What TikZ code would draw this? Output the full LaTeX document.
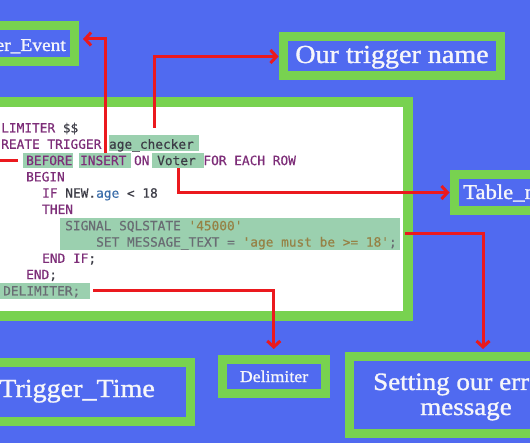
\documentclass[tikz,border=0pt]{standalone}
\usepackage{fontspec}
\setmainfont{Liberation Serif}
\setmonofont{DejaVu Sans Mono}[FakeBold=0.5]
\newfontfamily\labelfont{Liberation Serif}[FakeBold=1.2, FakeStretch=1.08]
\usepackage{xcolor}
\usetikzlibrary{arrows.meta}

\definecolor{bgblue}{RGB}{80,106,240}
\definecolor{boxgreen}{RGB}{120,210,80}
\definecolor{linkred}{RGB}{235,25,30}
\definecolor{hlgreen}{RGB}{155,208,175}
\definecolor{kwpurple}{RGB}{125,45,120}
\definecolor{idgray}{RGB}{60,60,70}
\definecolor{sqlgray}{RGB}{105,108,115}
\definecolor{strolive}{RGB}{150,130,70}
\definecolor{colblue}{RGB}{60,110,170}
\definecolor{labeltext}{RGB}{246,246,250}

\newcommand{\sqlkw}[1]{\textcolor{kwpurple}{#1}}
\newcommand{\sqlid}[1]{\textcolor{idgray}{#1}}
\newcommand{\sqlstring}[1]{\textcolor{strolive}{#1}}

\tikzset{
  greenbox/.style={draw=boxgreen, line width=9pt, fill=bgblue, inner sep=0},
  labeltxt/.style={text=labeltext, inner sep=0},
  codeline/.style={anchor=base west, inner sep=0, font={\fontsize{12.8}{16}\selectfont\ttfamily}},
  hl/.style={fill=hlgreen, inner sep=0},
  link/.style={draw=linkred, line width=3pt, -{Straight Barb[length=6pt,width=13pt]}},
  linkplain/.style={draw=linkred, line width=3pt}
}

\begin{document}
\begin{tikzpicture}[x=1pt,y=-1pt]
  \useasboundingbox (0,0) rectangle (530,443);
  \clip (0,0) rectangle (530,443);
  \fill[bgblue] (0,0) rectangle (530,443);

  % code panel
  \node[greenbox, line width=10pt, fill=white, minimum width=428pt, minimum height=214pt]
    (codeBox) at (194,209.5) {};

  % highlighted parts
  \node[hl, minimum width=90pt, minimum height=16pt] (hlAge) at (154,143) {};
  \node[hl, minimum width=50pt, minimum height=15pt] (hlBefore) at (48,160.5) {};
  \node[hl, minimum width=52pt, minimum height=15pt] (hlInsert) at (105,160.5) {};
  \node[hl, minimum width=52pt, minimum height=15pt] (hlVoter) at (178,160.5) {};
  \node[hl, minimum width=340pt, minimum height=32pt] (hlSignal) at (230,234) {};
  \node[hl, minimum width=95pt, minimum height=16pt] (hlDelim) at (42.5,291) {};

  % code lines
  \node[codeline] (l1) at (1,132.5) {\sqlkw{LIMITER} \sqlid{\$\$}};
  \node[codeline] (l2) at (1,148.8) {\sqlkw{REATE TRIGGER} \sqlid{age\_checker}};
  \node[codeline] (l3) at (26,165.1) {\sqlkw{BEFORE INSERT ON} \sqlid{Voter} \sqlkw{FOR EACH ROW}};
  \node[codeline] (l4) at (26,181.4) {\sqlkw{BEGIN}};
  \node[codeline] (l5) at (42,197.7) {\sqlkw{IF} \sqlid{NEW.}\textcolor{colblue}{age} \sqlid{< 18}};
  \node[codeline] (l6) at (42,214) {\sqlkw{THEN}};
  \node[codeline] (l7) at (65,230.3) {\textcolor{sqlgray}{SIGNAL SQLSTATE} \sqlstring{'45000'}};
  \node[codeline] (l8) at (96,246.6) {\textcolor{sqlgray}{SET MESSAGE\_TEXT =} \sqlstring{'age must be >= 18'}\textcolor{sqlgray}{;}};
  \node[codeline] (l9) at (42,262.9) {\sqlkw{END IF}\sqlid{;}};
  \node[codeline] (l10) at (26,279.2) {\sqlkw{END}\sqlid{;}};
  \node[codeline] (l11) at (3,295.5) {\textcolor{sqlgray}{DELIMITER;}};

  % label boxes
  \node[greenbox, minimum width=94.5pt, minimum height=36pt] (evtBox) at (27.25,44) {};
  \node[labeltxt, anchor=base east, font=\labelfont\fontsize{18}{21}\selectfont] (evtText) at (66,51) {er\_Event};

  \node[greenbox, minimum width=217.5pt, minimum height=39pt] (nameBox) at (391.75,56.5) {};
  \node[labeltxt, anchor=base, font=\labelfont\fontsize{26}{30}\selectfont] (nameText) at (392,63) {Our trigger name};

  \node[greenbox, minimum width=106pt, minimum height=36pt] (tblBox) at (507,192.5) {};
  \node[labeltxt, anchor=base west, font=\labelfont\fontsize{21}{24}\selectfont] (tblText) at (463,199) {Table\_n};

  \node[greenbox, minimum width=210pt, minimum height=58.5pt] (timeBox) at (85,392.25) {};
  \node[labeltxt, anchor=base east, font=\labelfont\fontsize{26}{30}\selectfont] (timeText) at (155,397) {Trigger\_Time};

  \node[greenbox, minimum width=102.5pt, minimum height=33.5pt] (delimBox) at (273.75,376.75) {};
  \node[labeltxt, anchor=base, font=\labelfont\fontsize{16.5}{19}\selectfont] (delimText) at (274,382) {Delimiter};

  \node[greenbox, minimum width=250.5pt, minimum height=76.5pt] (msgBox) at (474.75,395.25) {};
  \node[labeltxt, anchor=base west, font=\labelfont\fontsize{25}{28}\selectfont] (msgText1) at (373,390) {Setting our err};
  \node[labeltxt, anchor=base, font=\labelfont\fontsize{25}{28}\selectfont] (msgText2) at (466,415) {message};

  % free ends
  \coordinate (timeIn) at (-10,160.5);
  \coordinate (msgIn) at (483,349);

  % connectors
  \draw[link] (hlInsert.north) |- ([shift={(4,-5)}]evtBox.east);
  \draw[link, shorten <=7pt] (hlAge.north) |- (nameBox.west);
  \draw[link] (hlVoter.south) |- (tblBox.west);
  \draw[link, shorten <=5pt] (hlSignal.east) -| (msgIn);
  \draw[link, shorten <=3pt, shorten >=6.5pt] (hlDelim.east) -| (delimBox.north);
  \draw[linkplain, shorten <=5pt] (hlBefore.west) -- (timeIn);
\end{tikzpicture}
\end{document}
